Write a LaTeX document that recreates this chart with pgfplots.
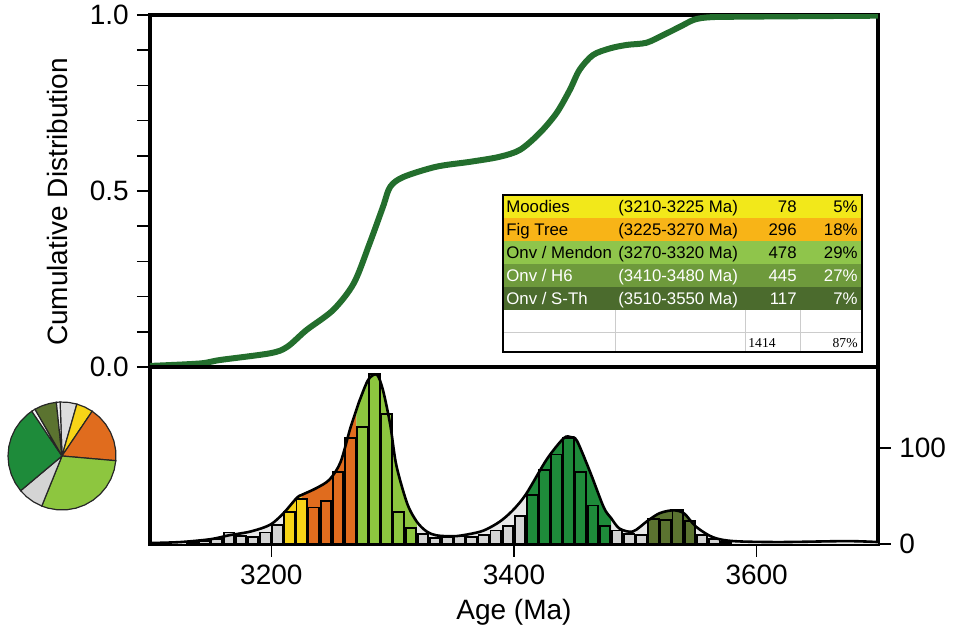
\documentclass[border=0pt]{standalone}
\usepackage{fontspec}
\setmainfont{Liberation Sans}
\newfontfamily\timesfont{Liberation Serif}
\usepackage{pgfplots}
\usepackage{pgfplotstable}
\pgfplotsset{compat=1.18}

\definecolor{cumgreen}{HTML}{236E2D}
\definecolor{hgrey}{HTML}{D4D4D4}
\definecolor{kgrey}{HTML}{E9E9E9}
\definecolor{hyellow}{HTML}{F7D417}
\definecolor{horange}{HTML}{E06C1E}
\definecolor{hlgreen}{HTML}{8DC63F}
\definecolor{hdgreen}{HTML}{1E8B3A}
\definecolor{holive}{HTML}{5B7330}
\definecolor{tyellow}{HTML}{F2E81A}
\definecolor{torange}{HTML}{F8B417}
\definecolor{tlgreen}{HTML}{8FC54B}
\definecolor{tmgreen}{HTML}{6E9A3C}
\definecolor{tdgreen}{HTML}{4B6B2D}

\pgfplotstableread{
x y
3100 0.003
3141 0.010
3158 0.020
3199 0.039
3213 0.057
3229 0.105
3251 0.162
3268 0.238
3281 0.351
3292 0.455
3298 0.512
3309 0.540
3336 0.569
3364 0.583
3388 0.597
3405 0.617
3421 0.664
3435 0.721
3446 0.787
3454 0.844
3465 0.886
3479 0.905
3493 0.915
3509 0.921
3523 0.943
3537 0.967
3548 0.986
3559 0.993
3581 0.995
3700 0.998
}\cumtab

\pgfplotstableread{
x y
3100 1
3125 2
3150 5
3165 9
3183 13
3199 20
3210 32
3221 48
3225 51
3237 58
3248 67
3257 85
3265 120
3270 139
3273 150
3280 171
3287 176
3292 160
3298 124
3303 82
3312 42
3320 23
3328 13
3336 9
3350 8
3362 10
3375 14
3388 23
3399 35
3410 52
3427 88
3441 110
3447 111
3452 107
3463 74
3474 38
3480 27
3487 16
3498 13
3510 24
3520 32
3531 35
3540 32
3550 18
3564 7
3581 3
3619 2
3674 3
3700 2
}\kdetab

\pgfplotstableread{
x y
3135 2
3145 3
3155 5
3165 12
3175 8
3185 7
3195 12
3205 20
3325 10
3335 6
3345 7
3355 8
3365 7
3375 9
3385 14
3395 19
3405 29
3485 14
3495 10
3505 9
3555 9
3565 5
3575 2
}\greybars

\pgfplotstableread{
x y
3215 33
3225 47
}\yellowbars

\pgfplotstableread{
x y
3235 38
3245 45
3255 75
3265 110
}\orangebars

\pgfplotstableread{
x y
3275 122
3285 177
3295 135
3305 33
3315 17
}\lgreenbars

\pgfplotstableread{
x y
3415 51
3425 77
3435 93
3445 110
3455 75
3465 40
3475 19
}\dgreenbars

\pgfplotstableread{
x y
3515 26
3525 25
3535 35
3545 24
}\olivebars

\begin{document}
\begin{tikzpicture}
\useasboundingbox (0,0) rectangle (477.5pt,315.5pt);

% ---------- top axis: cumulative distribution ----------
\begin{axis}[
  at={(75pt,132pt)}, anchor=south west,
  scale only axis, width=364pt, height=176pt,
  xmin=3100, xmax=3700, ymin=0, ymax=1,
  xtick=\empty,
  ytick={0,0.5,1}, yticklabels={0.0,0.5,1.0},
  minor ytick={0.1,0.2,0.3,0.4,0.6,0.7,0.8,0.9},
  ytick pos=left, tick align=outside,
  major tick length=6.5pt, minor tick length=6.5pt,
  line width=1.6pt,
  every tick/.style={black, line width=0.8pt},
  axis line style={line width=1.6pt},
  tick label style={font=\fontsize{14}{16}\selectfont},
  every axis y label/.style={at={(rel axis cs:0,0.5)}, xshift=-46.5pt, yshift=-5.5pt, rotate=90, anchor=center, font=\fontsize{14}{16}\selectfont},
  ylabel={Cumulative Distribution},
]
\addplot[cumgreen, line width=3pt, smooth, tension=0.5] table[x=x,y=y] {\cumtab};
\end{axis}

% ---------- bottom axis: histogram ----------
\begin{axis}[
  at={(75pt,43.5pt)}, anchor=south west,
  scale only axis, width=364pt, height=88.5pt,
  xmin=3100, xmax=3700, ymin=0, ymax=184,
  xtick={3200,3400,3600}, xticklabels={3200,3400,3600},
  ytick={0,100}, yticklabels={0,100},
  xtick pos=bottom, ytick pos=right, tick align=outside,
  major tick length=6.5pt,
  line width=1.6pt,
  every tick/.style={black, line width=0.8pt},
  axis line style={line width=1.6pt},
  tick label style={font=\fontsize{14}{16}\selectfont},
  every axis x label/.style={at={(rel axis cs:0.5,0)}, yshift=-34pt, anchor=center, font=\fontsize{14}{16}\selectfont},
  xlabel={Age (Ma)},
]
\addplot[fill=kgrey, draw=none, smooth, tension=0.5] table[x=x,y=y] {\kdetab} \closedcycle;
\addplot[fill=hyellow, draw=none, smooth, tension=0.5, restrict x to domain=3210:3225] table[x=x,y=y] {\kdetab} \closedcycle;
\addplot[fill=horange, draw=none, smooth, tension=0.5, restrict x to domain=3225:3270] table[x=x,y=y] {\kdetab} \closedcycle;
\addplot[fill=hlgreen, draw=none, smooth, tension=0.5, restrict x to domain=3270:3320] table[x=x,y=y] {\kdetab} \closedcycle;
\addplot[fill=hdgreen, draw=none, smooth, tension=0.5, restrict x to domain=3410:3480] table[x=x,y=y] {\kdetab} \closedcycle;
\addplot[fill=holive, draw=none, smooth, tension=0.5, restrict x to domain=3510:3550] table[x=x,y=y] {\kdetab} \closedcycle;
\addplot[ybar, bar width=8.6, fill=hgrey, draw=black, line width=0.9pt] table[x=x,y=y] {\greybars};
\addplot[ybar, bar width=8.6, fill=hyellow, draw=black, line width=0.9pt] table[x=x,y=y] {\yellowbars};
\addplot[ybar, bar width=8.6, fill=horange, draw=black, line width=0.9pt] table[x=x,y=y] {\orangebars};
\addplot[ybar, bar width=8.6, fill=hlgreen, draw=black, line width=0.9pt] table[x=x,y=y] {\lgreenbars};
\addplot[ybar, bar width=8.6, fill=hdgreen, draw=black, line width=0.9pt] table[x=x,y=y] {\dgreenbars};
\addplot[ybar, bar width=8.6, fill=holive, draw=black, line width=0.9pt] table[x=x,y=y] {\olivebars};
\addplot[black, line width=1.3pt, smooth, tension=0.5] table[x=x,y=y] {\kdetab};
\end{axis}

% ---------- pie ----------
\begin{axis}[
  at={(31pt,87.5pt)}, anchor=center,
  scale only axis, width=54pt, height=54pt,
  xmin=-1, xmax=1, ymin=-1, ymax=1,
  hide axis, clip=false,
]
\addplot[data cs=polar, fill=hgrey!80, draw=black!85, line width=0.6pt] coordinates {(92,0) (92,1) (83,1) (74,1) (74,0)};
\addplot[data cs=polar, fill=hyellow, draw=black!85, line width=0.6pt] coordinates {(74,0) (74,1) (65,1) (56,1) (56,0)};
\addplot[data cs=polar, fill=horange, draw=black!85, line width=0.6pt] coordinates {(56,0) (56,1) (46,1) (36,1) (26,1) (16,1) (6,1) (-5,1) (-5,0)};
\addplot[data cs=polar, fill=hlgreen, draw=black!85, line width=0.6pt] coordinates {(-5,0) (-5,1) (-15,1) (-25,1) (-35,1) (-45,1) (-55,1) (-65,1) (-75,1) (-85,1) (-95,1) (-105,1) (-112,1) (-112,0)};
\addplot[data cs=polar, fill=hgrey, draw=black!85, line width=0.6pt] coordinates {(-112,0) (-112,1) (-122,1) (-131,1) (-140,1) (-140,0)};
\addplot[data cs=polar, fill=hdgreen, draw=black!85, line width=0.6pt] coordinates {(-140,0) (-140,1) (-150,1) (-160,1) (-170,1) (-180,1) (-190,1) (-200,1) (-210,1) (-220,1) (-230,1) (-236,1) (-236,0)};
\addplot[data cs=polar, fill=black!5, draw=black!85, line width=0.6pt] coordinates {(-236,0) (-236,1) (-240,1) (-240,0)};
\addplot[data cs=polar, fill=holive, draw=black!85, line width=0.6pt] coordinates {(-240,0) (-240,1) (-248,1) (-256,1) (-264,1) (-264,0)};
\addplot[data cs=polar, fill=black!5, draw=black!85, line width=0.6pt] coordinates {(-264,0) (-264,1) (-268,1) (-268,0)};
\end{axis}

% ---------- table ----------
\begin{scope}[x=0.5pt, y=-0.5pt, shift={(0,-631)}]
\fill[tyellow] (503,195) rectangle (862,218);
\fill[torange] (503,218) rectangle (862,241);
\fill[tlgreen] (503,241) rectangle (862,264);
\fill[tmgreen] (503,264) rectangle (862,287);
\fill[tdgreen] (503,287) rectangle (862,310);
\fill[white] (503,310) rectangle (862,352);
\draw[black!20, line width=0.4pt] (615,310) -- (615,352) (745,310) -- (745,352) (800,310) -- (800,352) (503,332) -- (862,332);
\draw[black, line width=1.2pt] (503,195) rectangle (862,352);
\begin{scope}[every node/.style={inner sep=0pt, font=\fontsize{8.4}{9}\selectfont}]
\node[anchor=base west] at (506,212.5) {Moodies};
\node[anchor=base west] at (618,212.5) {(3210-3225 Ma)};
\node[anchor=base east] at (797,212.5) {78};
\node[anchor=base east] at (858,212.5) {5\%};
\node[anchor=base west] at (506,235.5) {Fig Tree};
\node[anchor=base west] at (618,235.5) {(3225-3270 Ma)};
\node[anchor=base east] at (797,235.5) {296};
\node[anchor=base east] at (858,235.5) {18\%};
\node[anchor=base west] at (506,258.5) {Onv / Mendon};
\node[anchor=base west] at (618,258.5) {(3270-3320 Ma)};
\node[anchor=base east] at (797,258.5) {478};
\node[anchor=base east] at (858,258.5) {29\%};
\node[anchor=base west, text=white] at (506,281.5) {Onv / H6};
\node[anchor=base west, text=white] at (618,281.5) {(3410-3480 Ma)};
\node[anchor=base east, text=white] at (797,281.5) {445};
\node[anchor=base east, text=white] at (858,281.5) {27\%};
\node[anchor=base west, text=white] at (506,304.5) {Onv / S-Th};
\node[anchor=base west, text=white] at (618,304.5) {(3510-3550 Ma)};
\node[anchor=base east, text=white] at (797,304.5) {117};
\node[anchor=base east, text=white] at (858,304.5) {7\%};
\node[anchor=base west, font=\timesfont\fontsize{6.8}{8}\selectfont] at (748,348) {1414};
\node[anchor=base east, font=\timesfont\fontsize{6.8}{8}\selectfont] at (858,348) {87\%};
\end{scope}
\end{scope}
\end{tikzpicture}
\end{document}
